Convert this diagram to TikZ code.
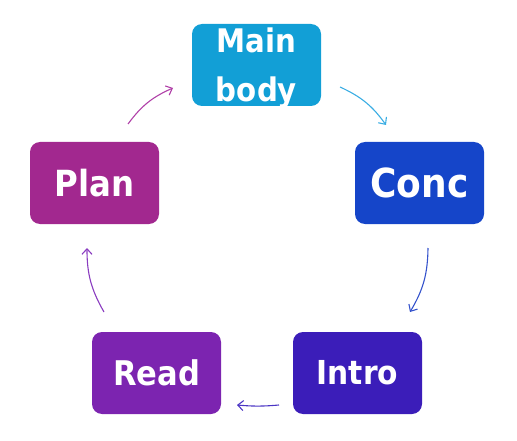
\documentclass[tikz,border=0pt]{standalone}
\usepackage{fontspec}
\setmainfont{DejaVu Sans}[FakeStretch=0.9]
\usetikzlibrary{arrows.meta}
\definecolor{cmain}{HTML}{129FD6}
\definecolor{cconc}{HTML}{1545C9}
\definecolor{cintro}{HTML}{3B1DB9}
\definecolor{cread}{HTML}{7C24B0}
\definecolor{cplan}{HTML}{A2288F}
\definecolor{amain}{HTML}{3AADE3}
\definecolor{aconc}{HTML}{3553CC}
\definecolor{aintro}{HTML}{4B35C4}
\definecolor{aread}{HTML}{8A3CC0}
\definecolor{aplan}{HTML}{B040A8}
\tikzset{
  stagebox/.style={rounded corners=10pt, minimum width=129pt, minimum height=82pt,
    inner sep=0pt, text=white, font=\bfseries, align=center},
  cyclearrow/.style={line width=1.1pt, -{Straight Barb[length=5.5pt,width=10pt]}, bend left=15}
}
\begin{document}
\begin{tikzpicture}[x=1pt,y=1pt]
\useasboundingbox (0,0) rectangle (517,440);
\node[stagebox, fill=cmain, font=\bfseries\fontsize{32.5}{49}\selectfont] (main) at (256.5,375)
  {\smash{\raisebox{-8.5pt}{\begin{tabular}{@{}c@{}}Main\\body\end{tabular}}}};
\node[stagebox, fill=cconc, font=\bfseries\fontsize{40}{44}\selectfont] (conc) at (419.5,257) {Conc};
\node[stagebox, fill=cintro, font=\bfseries\fontsize{33}{36}\selectfont] (intro) at (357.5,67) {Intro};
\node[stagebox, fill=cread, font=\bfseries\fontsize{34}{36}\selectfont] (read) at (156.5,67) {Read};
\node[stagebox, fill=cplan, font=\bfseries\fontsize{36}{40}\selectfont] (plan) at (94.5,257) {Plan};
\coordinate (a1s) at (340,353); \coordinate (a1e) at (386,315);
\coordinate (a2s) at (428,192); \coordinate (a2e) at (410,128);
\coordinate (a3s) at (279,35);  \coordinate (a3e) at (237,35);
\coordinate (a4s) at (104,128); \coordinate (a4e) at (87,192);
\coordinate (a5s) at (128,316); \coordinate (a5e) at (173,352);
\draw[cyclearrow, amain] (a1s) to (a1e);
\draw[cyclearrow, aconc] (a2s) to (a2e);
\draw[cyclearrow, aintro, bend left=5] (a3s) to (a3e);
\draw[cyclearrow, aread] (a4s) to (a4e);
\draw[cyclearrow, aplan] (a5s) to (a5e);
\end{tikzpicture}
\end{document}
